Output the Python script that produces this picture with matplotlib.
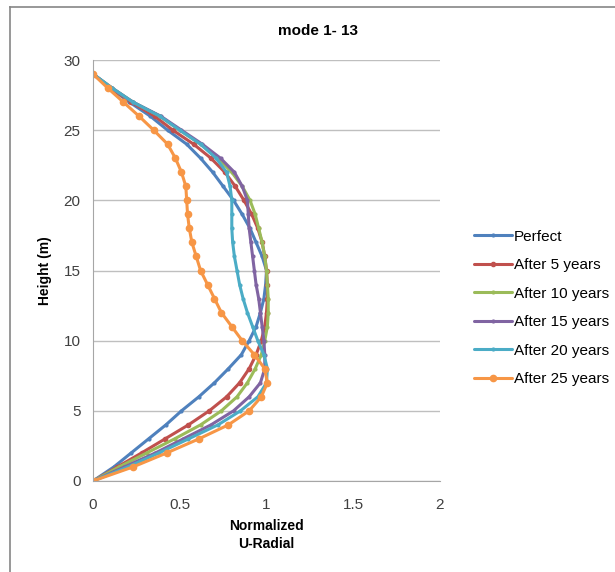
import matplotlib
matplotlib.use("Agg")
import matplotlib.pyplot as plt
from matplotlib.lines import Line2D

plt.rcParams['font.family'] = ['Liberation Sans', 'DejaVu Sans']

# heights (m) of the nodes
height = list(range(30))

perfect = [0, 0.12, 0.22, 0.32, 0.42, 0.51, 0.61, 0.70, 0.78, 0.855,
           0.90, 0.94, 0.965, 0.985, 0.995, 1.0, 0.975, 0.94, 0.905, 0.86,
           0.81, 0.75, 0.69, 0.62, 0.54, 0.43, 0.33, 0.21, 0.10, 0]
after_5 = [0, 0.14, 0.28, 0.415, 0.55, 0.67, 0.77, 0.845, 0.90, 0.94,
           0.97, 0.99, 1.0, 1.005, 1.005, 1.0, 0.99, 0.975, 0.95, 0.915,
           0.87, 0.82, 0.76, 0.68, 0.58, 0.46, 0.355, 0.22, 0.10, 0]
after_10 = [0, 0.15, 0.31, 0.47, 0.62, 0.74, 0.83, 0.89, 0.935, 0.97,
            0.99, 1.005, 1.01, 1.01, 1.005, 1.0, 0.99, 0.975, 0.955, 0.935,
            0.905, 0.86, 0.80, 0.72, 0.62, 0.50, 0.385, 0.23, 0.11, 0]
after_15 = [0, 0.18, 0.36, 0.52, 0.68, 0.81, 0.90, 0.965, 0.99, 0.99,
            0.985, 0.975, 0.965, 0.955, 0.94, 0.93, 0.92, 0.91, 0.90, 0.895,
            0.89, 0.86, 0.815, 0.735, 0.63, 0.51, 0.39, 0.23, 0.11, 0]
after_20 = [0, 0.20, 0.38, 0.55, 0.72, 0.85, 0.95, 1.0, 1.005, 0.985,
            0.95, 0.92, 0.89, 0.865, 0.845, 0.83, 0.815, 0.805, 0.80, 0.80,
            0.80, 0.79, 0.77, 0.71, 0.62, 0.50, 0.385, 0.23, 0.11, 0]
after_25 = [0, 0.23, 0.425, 0.61, 0.78, 0.90, 0.97, 1.005, 0.99, 0.93,
            0.86, 0.80, 0.74, 0.70, 0.66, 0.62, 0.595, 0.57, 0.555, 0.545,
            0.54, 0.535, 0.51, 0.475, 0.43, 0.35, 0.265, 0.175, 0.085, 0]

series = [perfect, after_5, after_10, after_15, after_20, after_25]
labels = ['Perfect', 'After 5 years', 'After 10 years', 'After 15 years',
          'After 20 years', 'After 25 years']
colors = ['#4F81BD', '#C0504D', '#9BBB59', '#8064A2', '#4BACC6', '#F79646']
msizes = [2, 3, 2, 2, 2, 4.5]

fig = plt.figure(figsize=(6.15, 5.72), dpi=100)
ax = fig.add_axes([93 / 615, 1 - 481 / 572, 347 / 615, 421 / 572])

for vals, lab, c, ms in zip(series, labels, colors, msizes):
    ax.plot(vals, height, color=c, lw=2.2, marker='o', ms=ms, label=lab,
            solid_capstyle='round')

ax.set_xlim(0, 2)
ax.set_ylim(0, 30)
ax.set_xticks([0, 0.5, 1, 1.5, 2])
ax.set_xticklabels(['0', '0.5', '1', '1.5', '2'])
ax.set_yticks(range(0, 31, 5))
ax.yaxis.grid(True, color='#BFBFBF', lw=1)
ax.set_axisbelow(True)
for s in ['top', 'right']:
    ax.spines[s].set_visible(False)
for s in ['left', 'bottom']:
    ax.spines[s].set_color('#A6A6A6')
ax.tick_params(axis='both', labelsize=11, colors='#404040', length=0, pad=9)
ax.tick_params(axis='x', pad=12)

ax.set_ylabel('Height (m)', fontsize=10, fontweight='bold', labelpad=8)
fig.text(266 / 615, 1 - 535 / 572, 'Normalized\nU-Radial', ha='center',
         va='center', fontsize=10, fontweight='bold', linespacing=1.4)
fig.text(318 / 615, 1 - 31 / 572, 'mode 1- 13', ha='center', va='center',
         fontsize=11, fontweight='bold')

ax.legend(loc='center left', bbox_to_anchor=(460 / 615, 1 - 308 / 572),
          bbox_transform=fig.transFigure, frameon=False, fontsize=11,
          handlelength=2.5, handletextpad=0.15, labelspacing=0.95)

# outer chart frame
fig.add_artist(Line2D([10 / 615, 1], [1 - 7 / 572, 1 - 7 / 572],
                      transform=fig.transFigure, color='#868686', lw=1.2))
fig.add_artist(Line2D([10 / 615, 10 / 615], [0, 1 - 7 / 572],
                      transform=fig.transFigure, color='#868686', lw=1.2))

fig.savefig('out.png', dpi=100)
